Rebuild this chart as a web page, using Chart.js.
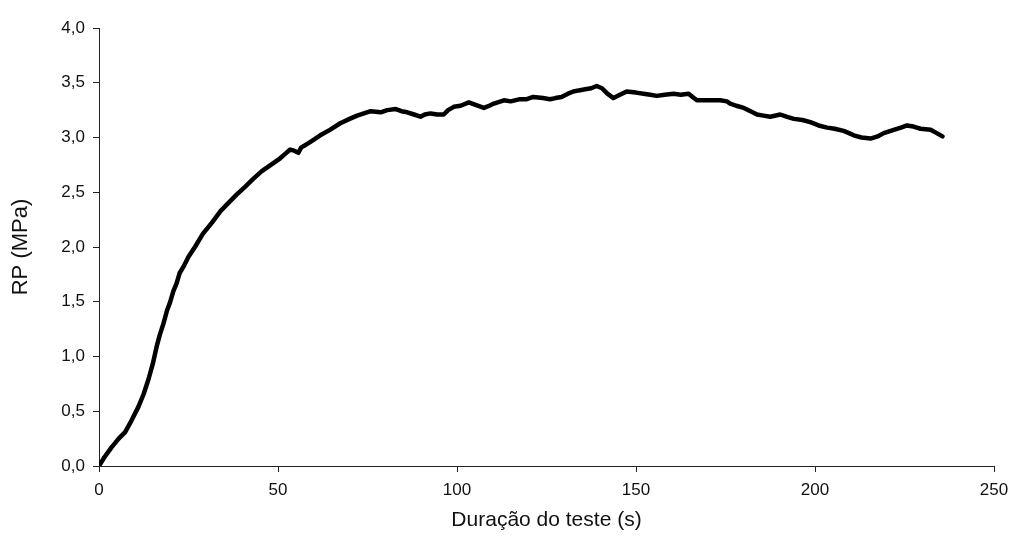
<!DOCTYPE html>
<html>
<head>
<meta charset="utf-8">
<script src="https://cdn.jsdelivr.net/npm/chart.js@4.4.0/dist/chart.umd.min.js"></script>
<style>
  html, body { margin: 0; padding: 0; background: #fff; }
  #wrap { width: 1017px; height: 541px; position: relative; }
</style>
</head>
<body>
<div id="wrap"><canvas id="c" width="1017" height="541"></canvas></div>
<script>
// Time (s)
const times = [
  0, 1.5, 3.5, 5.5, 7.3, 9, 11, 12.5, 13.8, 15, 16.1, 17, 18, 19, 19.8, 20.8, 21.7, 22.5, 23.6, 25,
  26.8, 29, 31.5, 34, 36.1, 38.5, 40.8, 43, 45.4, 48, 50.6, 52, 53.4, 54.5, 55.7, 56.5, 57.6, 59.5, 61.8, 64.5,
  67.4, 70, 72.1, 74, 75.9, 78.7, 80.5, 82.9, 84.5, 86.1, 88, 89.8, 91, 92.6, 94.5, 96.3, 97.5, 99.1, 101, 103.3,
  105, 107.5, 109, 110.3, 113.1, 115, 117.6, 119.5, 121.3, 124, 126, 127.5, 129.2, 131, 132.5, 134, 135.8, 137.5, 139, 140.5,
  142, 143.7, 145.5, 147.4, 150, 152.1, 154, 155.8, 158, 160.5, 162.5, 164.7, 165.8, 167, 169, 171.6, 173.5, 175.4, 176.3, 178,
  180.1, 182, 183.8, 185.6, 187.5, 190.3, 192, 194.1, 196.5, 198.7, 201, 203.4, 205.5, 208, 209.5, 210.8, 213, 215.5, 217.5, 219.2,
  222, 224, 225.7, 227.5, 229.5, 232.3, 234, 235.6
];
// RP (MPa)
const rpValues = [
  0.00, 0.08, 0.17, 0.25, 0.31, 0.41, 0.54, 0.66, 0.79, 0.93, 1.09, 1.20, 1.30, 1.42, 1.49, 1.60, 1.67, 1.76, 1.82, 1.91,
  2.00, 2.12, 2.22, 2.33, 2.40, 2.48, 2.55, 2.62, 2.69, 2.75, 2.81, 2.85, 2.89, 2.88, 2.86, 2.91, 2.93, 2.97, 3.02, 3.07,
  3.13, 3.17, 3.20, 3.22, 3.24, 3.23, 3.25, 3.26, 3.24, 3.23, 3.21, 3.19, 3.21, 3.22, 3.21, 3.21, 3.25, 3.28, 3.29, 3.32,
  3.30, 3.27, 3.29, 3.31, 3.34, 3.33, 3.35, 3.35, 3.37, 3.36, 3.35, 3.36, 3.37, 3.40, 3.42, 3.43, 3.44, 3.45, 3.47, 3.45,
  3.40, 3.36, 3.39, 3.42, 3.41, 3.40, 3.39, 3.38, 3.39, 3.40, 3.39, 3.40, 3.37, 3.34, 3.34, 3.34, 3.34, 3.33, 3.31, 3.29,
  3.27, 3.24, 3.21, 3.20, 3.19, 3.21, 3.19, 3.17, 3.16, 3.14, 3.11, 3.09, 3.08, 3.06, 3.04, 3.02, 3.00, 2.99, 3.01, 3.04,
  3.07, 3.09, 3.11, 3.10, 3.08, 3.07, 3.04, 3.01
];
const xTickValues = [0, 50, 100, 150, 200, 250];
const yTickValues = [0, 0.5, 1, 1.5, 2, 2.5, 3, 3.5, 4];
const yTickLabels = ['0,0', '0,5', '1,0', '1,5', '2,0', '2,5', '3,0', '3,5', '4,0'];
const xTitle = 'Duração do teste (s)';
const yTitle = 'RP (MPa)';

const points = times.map((t, i) => ({ x: t, y: rpValues[i] }));
const textColor = '#111';
const axisColor = '#222';
const fontFamily = '"Liberation Sans", Arial, sans-serif';

new Chart(document.getElementById('c'), {
  type: 'scatter',
  data: {
    datasets: [{
      data: points,
      showLine: true,
      borderColor: '#000',
      backgroundColor: '#000',
      borderWidth: 4.5,
      pointRadius: 0,
      tension: 0,
      borderJoinStyle: 'round',
      borderCapStyle: 'round'
    }]
  },
  options: {
    responsive: false,
    animation: false,
    devicePixelRatio: 1,
    layout: { padding: { left: 0, top: 28, right: 23, bottom: 0 } },
    plugins: { legend: { display: false }, tooltip: { enabled: false } },
    scales: {
      x: {
        type: 'linear',
        min: 0, max: 250,
        afterBuildTicks: (s) => { s.ticks = xTickValues.map(v => ({ value: v })); },
        afterFit: (s) => { s.height = 75; },
        grid: { drawOnChartArea: false, drawTicks: true, tickLength: 6, tickColor: axisColor, lineWidth: 1 },
        border: { display: true, color: axisColor, width: 1 },
        ticks: {
          color: textColor, padding: 8,
          font: { family: fontFamily, size: 17 },
          maxRotation: 0,
          callback: (v) => String(v)
        },
        title: {
          display: true, text: xTitle, color: textColor,
          font: { family: fontFamily, size: 21 },
          padding: { top: 0, bottom: 8 }
        }
      },
      y: {
        type: 'linear',
        min: 0, max: 4,
        afterBuildTicks: (s) => { s.ticks = yTickValues.map(v => ({ value: v })); },
        afterFit: (s) => { s.width = 99; },
        grid: { drawOnChartArea: false, drawTicks: true, tickLength: 6, tickColor: axisColor, lineWidth: 1 },
        border: { display: true, color: axisColor, width: 1 },
        ticks: {
          color: textColor, padding: 8,
          font: { family: fontFamily, size: 17 },
          callback: (v) => { const i = yTickValues.indexOf(v); return i >= 0 ? yTickLabels[i] : ''; }
        },
        title: {
          display: true, text: yTitle, color: textColor,
          font: { family: fontFamily, size: 22 },
          padding: { top: 8, bottom: 0 }
        }
      }
    }
  }
});
</script>
</body>
</html>
